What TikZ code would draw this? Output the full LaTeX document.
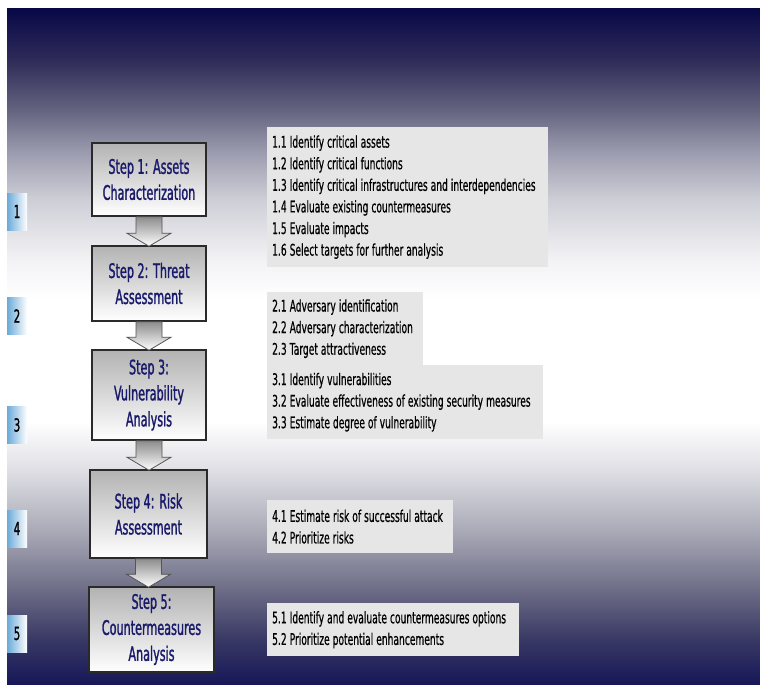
\documentclass[tikz,border=0pt]{standalone}
\usepackage{fontspec}
\newfontfamily\narrowsans[FakeStretch=0.57, FakeBold=0.6]{DejaVu Sans}
\newfontfamily\stepsans[FakeStretch=0.56, FakeBold=1.3]{DejaVu Sans}
\usetikzlibrary{calc}
\definecolor{navytop}{HTML}{080848}
\definecolor{navybot}{HTML}{161658}
\definecolor{fadeA}{HTML}{2E2B58}
\definecolor{fadeB}{HTML}{646480}
\definecolor{fadeC}{HTML}{9A9AAE}
\definecolor{fadeD}{HTML}{CDCDD6}
\definecolor{fadeE}{HTML}{F2F2F5}
\definecolor{fadeF}{HTML}{E0E0E6}
\definecolor{fadeG}{HTML}{ABABB8}
\definecolor{fadeH}{HTML}{6C6C86}
\definecolor{fadeI}{HTML}{3A3A66}
\definecolor{stepnavy}{HTML}{1A1A6A}
\definecolor{boxedge}{HTML}{2A2A2A}
\definecolor{listgray}{HTML}{E6E6E6}
\definecolor{tabblue}{HTML}{6AAAD8}
\pgfdeclareverticalshading{panelfade}{100bp}{
  color(0bp)=(navybot); color(25bp)=(navybot); color(28.5bp)=(fadeI);
  color(32bp)=(fadeH); color(36.5bp)=(fadeG); color(41bp)=(fadeF);
  color(44.5bp)=(white); color(53.5bp)=(white); color(56.5bp)=(fadeE);
  color(61bp)=(fadeD); color(64.5bp)=(fadeC); color(67.5bp)=(fadeB);
  color(71.25bp)=(fadeA); color(75bp)=(navytop); color(100bp)=(navytop)}

\begin{document}
\begin{tikzpicture}[
  x=1pt, y=-1pt,
  stepbox/.style={draw=boxedge, line width=1.5pt, top color=black!30, bottom color=white,
    text=stepnavy, font=\stepsans\fontsize{20}{26}\selectfont, align=center, inner sep=0pt,
    execute at begin node={\spaceskip=3.5pt\relax}},
  listbox/.style={fill=listgray, text=black, font=\narrowsans\fontsize{16}{21.6}\selectfont,
    align=left, anchor=north west, inner xsep=5pt, inner ysep=0pt,
    execute at begin node={\spaceskip=3pt plus 2pt\relax\hyphenpenalty=10000\relax}},
  numtab/.style={left color=tabblue, right color=white, minimum width=20pt, minimum height=37pt,
    inner sep=0pt, text=black, font=\stepsans\fontsize{18}{18}\selectfont},
  blockarrow/.style={draw=boxedge!80, line width=0.8pt, top color=black!45, bottom color=white},
]
\useasboundingbox (0,0) rectangle (760,685);

% Background panel
\fill[white] (0,0) rectangle (760,685);
\shade[shading=panelfade] (7,9) rectangle (760,685);

% Number tabs on the left
\node[numtab] (tab1) at (17,211.5) {1};
\node[numtab] (tab2) at (17,316) {2};
\node[numtab] (tab3) at (17,425) {3};
\node[numtab] (tab4) at (17,528.5) {4};
\node[numtab] (tab5) at (17,633.5) {5};

% Steps
\node[stepbox, minimum width=114pt, minimum height=73pt] (step1) at (149,179.5)
  {Step 1: Assets\\Characterization};
\node[stepbox, minimum width=114pt, minimum height=75pt] (step2) at (149,283.5)
  {Step 2: Threat\\Assessment};
\node[stepbox, minimum width=114pt, minimum height=90pt] (step3) at (149,395)
  {Step 3:\\Vulnerability\\Analysis};
\node[stepbox, minimum width=117pt, minimum height=88pt] (step4) at (148.5,514)
  {Step 4: Risk\\Assessment};
\node[stepbox, minimum width=125pt, minimum height=85pt] (step5) at (151.5,629.5)
  {Step 5:\\Countermeasures\\Analysis};

% Block arrows between steps
\foreach \a/\b in {step1/step2, step2/step3, step3/step4, step4/step5}
  \draw[blockarrow] let \p1=(\a.south), \p2=(\b.north) in
    (\x1-13pt,\y1) -- (\x1+13pt,\y1) -- (\x1+13pt,\y2+12pt) -- (\x1+22pt,\y2+12pt)
    -- (\x1,\y2-1pt) -- (\x1-22pt,\y2+12pt) -- (\x1-13pt,\y2+12pt) -- cycle;

% Sub-step lists
\node[listbox, text width=271pt, minimum height=140pt] (list1) at (267,127)
  {1.1 Identify critical assets\\1.2 Identify critical functions\\
   1.3 Identify critical infrastructures and interdependencies\\
   1.4 Evaluate existing countermeasures\\1.5 Evaluate impacts\\
   1.6 Select targets for further analysis};
\node[listbox, text width=146pt, minimum height=73pt] (list2) at (267,292)
  {2.1 Adversary identification\\2.2 Adversary characterization\\2.3 Target attractiveness};
\node[listbox, text width=266pt, minimum height=74pt] (list3) at (267,365)
  {3.1 Identify vulnerabilities\\3.2 Evaluate effectiveness of existing security measures\\
   3.3 Estimate degree of vulnerability};
\node[listbox, text width=176pt, minimum height=53pt] (list4) at (267,500)
  {4.1 Estimate risk of successful attack\\4.2 Prioritize risks};
\node[listbox, text width=242pt, minimum height=53pt] (list5) at (267,603)
  {5.1 Identify and evaluate countermeasures options\\5.2 Prioritize potential enhancements};

\end{tikzpicture}
\end{document}
